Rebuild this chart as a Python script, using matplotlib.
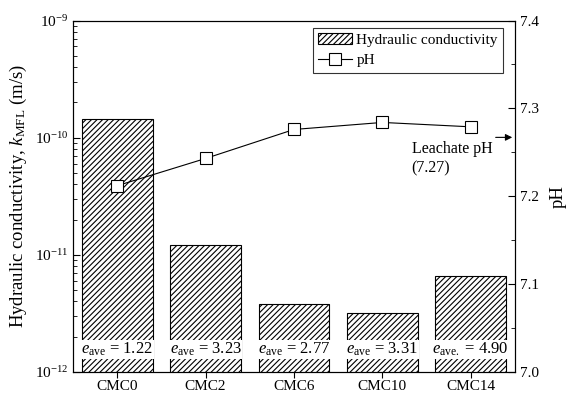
import matplotlib
matplotlib.use("Agg")
import matplotlib.pyplot as plt
from matplotlib.lines import Line2D
from matplotlib.patches import Patch
from matplotlib.ticker import LogLocator, MultipleLocator, NullFormatter

plt.rcParams['font.family'] = ['Liberation Serif', 'DejaVu Serif']
plt.rcParams['mathtext.fontset'] = 'custom'
plt.rcParams['mathtext.rm'] = 'Liberation Serif'
plt.rcParams['mathtext.it'] = 'Liberation Serif:italic'
plt.rcParams['hatch.linewidth'] = 0.8

categories = ["CMC0", "CMC2", "CMC6", "CMC10", "CMC14"]
k_values = [1.45e-10, 1.22e-11, 3.79e-12, 3.21e-12, 6.65e-12]
ph_values = [7.212, 7.243, 7.276, 7.284, 7.279]
e_labels = ["1.22", "3.23", "2.77", "3.31", "4.90"]
e_subs = ["ave", "ave", "ave", "ave", "ave."]
leachate_ph = 7.267

fig = plt.figure(figsize=(5.73, 3.94), dpi=100)
ax = fig.add_axes([73/573, 1 - 372/394, (515-73)/573, (372-20.5)/394])
x = list(range(len(categories)))

ax.set_yscale('log')
bars = ax.bar(x, k_values, width=0.8, color='white',
              edgecolor='black', hatch='//////', linewidth=0.8)
ax.set_ylim(1e-12, 1e-9)
ax.set_xlim(-0.5, 4.5)
ax.set_xticks(x)
ax.set_xticklabels(categories, fontsize=11)
ax.yaxis.set_major_locator(LogLocator(base=10, numticks=10))
ax.yaxis.set_minor_locator(LogLocator(base=10, subs=range(2, 10), numticks=20))
ax.yaxis.set_minor_formatter(NullFormatter())
ax.tick_params(axis='y', which='major', direction='in', length=5, labelsize=11)
ax.tick_params(axis='y', which='minor', direction='in', length=3)
ax.tick_params(axis='x', direction='out', length=4, labelsize=11, pad=2)
ax.set_ylabel("Hydraulic conductivity, $k_{\\mathrm{MFL}}$ (m/s)", fontsize=13.5, labelpad=4)

for xi, val, sub in zip(x, e_labels, e_subs):
    ax.text(xi, 1.55e-12, "$e_{\\mathrm{%s}}$ = %s" % (sub, val), ha='center', va='center',
            fontsize=12, bbox=dict(facecolor='white', edgecolor='none', pad=0.5))

ax2 = ax.twinx()
ax2.plot(x, ph_values, color='black', linewidth=0.8, marker='s', markersize=9,
         markerfacecolor='white', markeredgecolor='black', markeredgewidth=0.8)
ax2.set_ylim(7.0, 7.4)
ax2.yaxis.set_major_locator(MultipleLocator(0.1))
ax2.yaxis.set_minor_locator(MultipleLocator(0.05))
ax2.tick_params(axis='y', which='major', direction='in', length=5, labelsize=11)
ax2.tick_params(axis='y', which='minor', direction='in', length=3)
ax2.set_ylabel("pH", fontsize=13.5, labelpad=8)

ax2.annotate("", xy=(4.5, leachate_ph), xytext=(4.25, leachate_ph),
             arrowprops=dict(arrowstyle='-|>', color='black', lw=0.8, mutation_scale=10),
             annotation_clip=False)
ax2.text(3.33, 7.263, "Leachate pH\n(7.27)", ha='left', va='top', fontsize=11.5, linespacing=1.3)

handles = [Patch(facecolor='white', edgecolor='black', hatch='//////', linewidth=0.8),
           Line2D([0], [0], color='black', lw=0.8, marker='s', markersize=9,
                  markerfacecolor='white', markeredgecolor='black', markeredgewidth=0.8)]
leg = ax2.legend(handles, ["Hydraulic conductivity", "pH"], loc='upper right',
                 bbox_to_anchor=(0.973, 0.979), fontsize=11, frameon=True, fancybox=False,
                 edgecolor='black', borderpad=0.35, handlelength=2.2, handletextpad=0.3,
                 labelspacing=0.45, borderaxespad=0.0)
leg.get_frame().set_linewidth(0.8)

fig.savefig("out.png", dpi=100)
